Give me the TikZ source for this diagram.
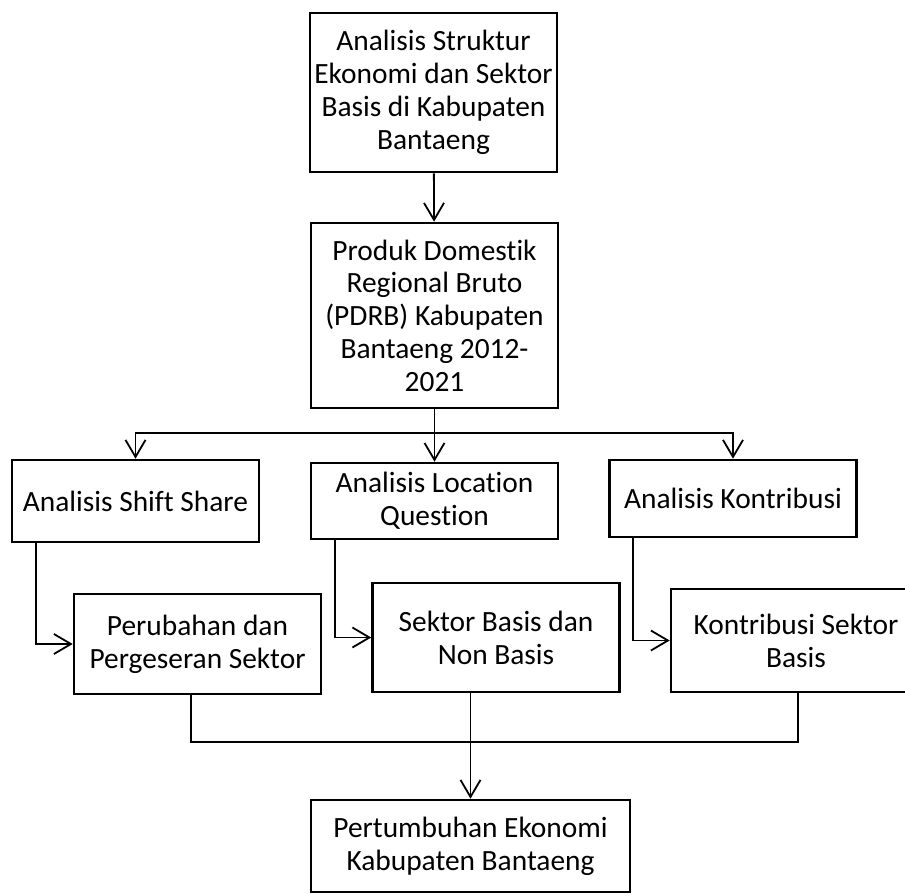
\documentclass[tikz,border=0pt]{standalone}
\usepackage{fontspec}
\setmainfont{Carlito}[Ligatures=NoCommon]
\usepackage{tikz}
\usetikzlibrary{arrows.meta}
\tikzstyle{box-node}=[draw=black,line width=1.3pt,align=center,inner sep=2pt,minimum width=123.5pt,font=\fontsize{14.7pt}{16.4pt}\selectfont]
\tikzstyle{black-line}=[draw=black,line width=0.9pt]

\begin{document}
\begin{tikzpicture}[x=0.5pt,y=-0.5pt]
        \path[use as bounding box,clip] (0,0) rectangle (905,895);

        \begin{scope}
            \node (analisis)[box-node,minimum height=79.5pt] at (433.5,92.5) {Analisis Struktur\\Ekonomi dan Sektor\\Basis di Kabupaten\\Bantaeng};
            \node (pdrb)[box-node,minimum height=92.5pt] at (434.5,315.5) {Produk Domestik\\Regional Bruto\\(PDRB) Kabupaten\\Bantaeng 2012-\\2021};
            \node (shift)[box-node,minimum height=41pt] at (135.5,501) {Analisis Shift Share};
            \node (lq)[box-node,minimum height=38pt] at (434.5,501) {Analisis Location\\Question};
            \node (kontribusi)[box-node,minimum height=38.5pt] at (733,498.5) {Analisis Kontribusi};
            \node (perubahan)[box-node,minimum height=50pt] at (197.5,644) {Perubahan dan\\Pergeseran Sektor};
            \node (sektor)[box-node,minimum height=54.5pt] at (496,637.5) {Sektor Basis dan\\Non Basis};
            \node (kontsektor)[box-node,minimum height=51.5pt,minimum width=125pt] at (796,640.5) {Kontribusi Sektor\\Basis};
            \node (hasil)[box-node,minimum height=46pt,minimum width=159.5pt] at (470.5,846) {Pertumbuhan Ekonomi\\Kabupaten Bantaeng};
            \coordinate (split) at (434.5,433);
            \coordinate (join) at (470.5,742);
        \end{scope}

        \begin{scope}[>={Straight Barb[length=8.5pt,width=10pt]}, every path/.style=black-line]
            \path [->] (analisis) edge (pdrb);
            \draw (pdrb.south) -- (split);
            \draw [->] (split) -| (shift.north);
            \draw [->] (split) -- (lq.north);
            \draw [->] (split) -| (kontribusi.north);
            \draw [->] ([xshift=12.5pt]shift.south west) |- (perubahan.west);
            \draw [->] ([xshift=12.5pt]lq.south west) |- (sektor.west);
            \draw [->] ([xshift=12.5pt]kontribusi.south west) |- (kontsektor.west);
            \draw ([xshift=-3.25pt]perubahan.south) |- (join) -| ([xshift=1pt]kontsektor.south);
            \draw [->] (sektor.south -| hasil.north) -- (hasil.north);
        \end{scope}

    \end{tikzpicture}
\end{document}
